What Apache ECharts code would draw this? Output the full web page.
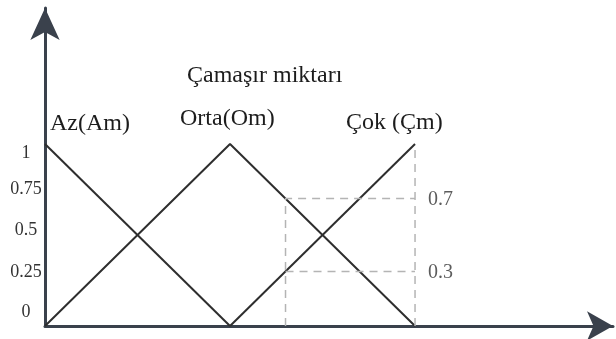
<!DOCTYPE html>
<html>
<head>
<meta charset="utf-8">
<script src="https://cdn.jsdelivr.net/npm/echarts@6/dist/echarts.min.js"></script>
<style>
  html, body { margin: 0; padding: 0; background: #fff; }
  #chart { width: 616px; height: 339px; }
</style>
</head>
<body>
<div id="chart"></div>
<script>
// Membership functions for laundry amount (Çamaşır miktarı)
const title = 'Çamaşır miktarı';
const setNames = ['Az(Am)', 'Orta(Om)', 'Çok (Çm)'];
const azPoints = [[0, 1], [1, 0]];
const ortaPoints = [[0, 0], [1, 1], [2, 0]];
const cokPoints = [[1, 0], [2, 1]];
const yTickLabels = ['0', '0.25', '0.5', '0.75', '1'];
const sampleX = 1.3;
const ortaDegree = 0.7;
const cokDegree = 0.3;
const xEnd = 2;

const serif = '"Liberation Serif", "DejaVu Serif", serif';
const lineColor = '#2e2e2e';
const dashColor = '#b4b4b4';
const textColor = '#1c1c1c';

const solid = (name, data) => ({
  name, type: 'line', data, symbol: 'none', silent: true,
  lineStyle: { color: lineColor, width: 2 }
});
const dashed = (data) => ({
  type: 'line', data, symbol: 'none', silent: true,
  lineStyle: { color: dashColor, width: 1.5, type: [8, 6] }
});
const heading = (text, left, top) => ({
  text, left, top,
  textStyle: { fontFamily: serif, fontSize: 24, fontWeight: 'normal', color: textColor }
});

// per-label vertical nudges for the hand-set y labels
const labelShift = { '0': -14, '0.25': -8, '0.5': -5, '0.75': 0, '1': 9 };

const chart = echarts.init(document.getElementById('chart'));
chart.setOption({
  backgroundColor: '#fff',
  animation: false,
  grid: { left: 45, top: 8, width: 568, height: 318 },
  title: [
    heading(title, 182, 59),
    heading(setNames[0], 45, 107),
    heading(setNames[1], 175, 102),
    heading(setNames[2], 341, 106)
  ],
  xAxis: {
    type: 'value', min: 0, max: 3.07,
    axisLine: { show: true, lineStyle: { color: '#3a414c', width: 3 }, symbol: ['none', 'arrow'], symbolSize: [22, 26] },
    axisTick: { show: false }, axisLabel: { show: false }, splitLine: { show: false }
  },
  yAxis: {
    type: 'value', min: 0, max: 1.747, interval: 0.25,
    axisLine: { show: true, lineStyle: { color: '#3a414c', width: 3 }, symbol: ['none', 'arrow'], symbolSize: [22, 32] },
    axisTick: { show: false }, splitLine: { show: false },
    axisLabel: {
      margin: 19, align: 'center', fontFamily: serif, fontSize: 18, color: '#333',
      formatter: (v) => {
        const s = String(v);
        if (!yTickLabels.includes(s)) return '';
        const d = labelShift[s];
        return d >= 0 ? '{dn' + d + '|' + s + '}' : '{up' + (-d) + '|' + s + '}';
      },
      rich: Object.fromEntries(Object.values(labelShift).map(d => d >= 0
        ? ['dn' + d, { padding: [2 * d, 0, 0, 0] }]
        : ['up' + (-d), { padding: [0, 0, -2 * d, 0] }]))
    }
  },
  series: [
    solid(setNames[0], azPoints),
    solid(setNames[1], ortaPoints),
    solid(setNames[2], cokPoints),
    dashed([[sampleX, 0], [sampleX, ortaDegree], [xEnd, ortaDegree]]),
    dashed([[sampleX, cokDegree], [xEnd, cokDegree]]),
    dashed([[xEnd, 0], [xEnd, 1]]),
    {
      type: 'scatter', symbolSize: 0, silent: true,
      data: [[xEnd, ortaDegree], [xEnd, cokDegree]],
      label: {
        show: true, position: 'right', distance: 13, offset: [0, 1],
        fontFamily: serif, fontSize: 20, color: '#333',
        formatter: (p) => String(p.value[1])
      }
    }
  ]
});
</script>
</body>
</html>
